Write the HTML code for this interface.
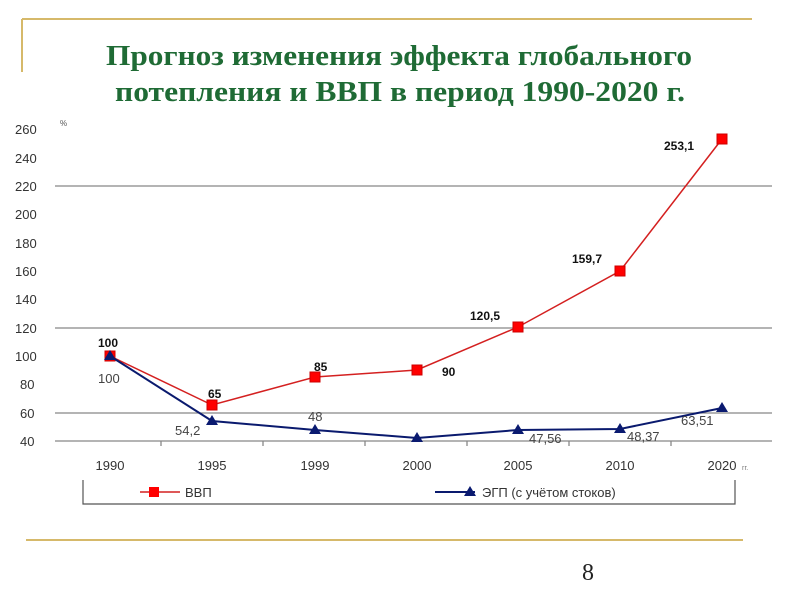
<!DOCTYPE html>
<html><head><meta charset="utf-8"><style>
body{margin:0;background:#fff;width:800px;height:600px;overflow:hidden}
</style></head><body>
<svg width="800" height="600" xmlns="http://www.w3.org/2000/svg" font-family="Liberation Sans, DejaVu Sans, sans-serif">
<line x1="22" y1="19" x2="752" y2="19" stroke="#d6b96a" stroke-width="2"/>
<line x1="22" y1="19" x2="22" y2="72" stroke="#d6b96a" stroke-width="2"/>
<line x1="26" y1="540" x2="743" y2="540" stroke="#d6b96a" stroke-width="2"/>
<g font-family="Liberation Serif, DejaVu Serif, serif" font-weight="bold" font-size="28" fill="#1f6b35">
<text x="106" y="65" textLength="586" lengthAdjust="spacingAndGlyphs">Прогноз изменения эффекта глобального</text>
<text x="115" y="101" textLength="570" lengthAdjust="spacingAndGlyphs">потепления и ВВП в период 1990-2020 г.</text>
</g>
<text x="582" y="580" font-family="Liberation Serif, serif" font-size="24" fill="#222">8</text>
<g stroke="#888" stroke-width="1.3">
<line x1="55" y1="186" x2="772" y2="186"/>
<line x1="55" y1="328" x2="772" y2="328"/>
<line x1="55" y1="413" x2="772" y2="413"/>
<line x1="55" y1="441" x2="772" y2="441"/>
<line x1="161" y1="441" x2="161" y2="446"/><line x1="263" y1="441" x2="263" y2="446"/>
<line x1="365" y1="441" x2="365" y2="446"/><line x1="467" y1="441" x2="467" y2="446"/>
<line x1="569" y1="441" x2="569" y2="446"/><line x1="671" y1="441" x2="671" y2="446"/>
</g>
<g font-size="13" fill="#333">
<text x="15" y="134">260</text><text x="15" y="163">240</text><text x="15" y="191">220</text>
<text x="15" y="219">200</text><text x="15" y="248">180</text><text x="15" y="276">160</text>
<text x="15" y="304">140</text><text x="15" y="333">120</text><text x="15" y="361">100</text>
<text x="20" y="389">80</text><text x="20" y="418">60</text><text x="20" y="446">40</text>
</g>
<text x="60" y="126" font-size="8" fill="#555">%</text>
<g font-size="13" fill="#333" text-anchor="middle">
<text x="110" y="470">1990</text><text x="212" y="470">1995</text><text x="315" y="470">1999</text>
<text x="417" y="470">2000</text><text x="518" y="470">2005</text><text x="620" y="470">2010</text>
<text x="722" y="470">2020</text>
</g>
<text x="742" y="470" font-size="7" fill="#777">гг.</text>
<polyline points="110,356 212,405 315,377 417,370 518,327 620,271 722,139" fill="none" stroke="#d42020" stroke-width="1.5"/>
<g fill="#f00" stroke="#c00">
<rect x="105" y="351" width="10" height="10"/><rect x="207" y="400" width="10" height="10"/>
<rect x="310" y="372" width="10" height="10"/><rect x="412" y="365" width="10" height="10"/>
<rect x="513" y="322" width="10" height="10"/><rect x="615" y="266" width="10" height="10"/>
<rect x="717" y="134" width="10" height="10"/>
</g>
<polyline points="110,356 212,421 315,430 417,438 518,430 620,429 722,408" fill="none" stroke="#0a1a6e" stroke-width="2"/>
<g fill="#0a1a70">
<path d="M110,350 l6,10 h-12z"/><path d="M212,415 l6,10 h-12z"/><path d="M315,424 l6,10 h-12z"/>
<path d="M417,432 l6,10 h-12z"/><path d="M518,424 l6,10 h-12z"/><path d="M620,423 l6,10 h-12z"/>
<path d="M722,402 l6,10 h-12z"/>
</g>
<g font-size="12" font-weight="bold" fill="#111">
<text x="98" y="347">100</text><text x="208" y="398">65</text><text x="314" y="371">85</text>
<text x="442" y="376">90</text><text x="470" y="320">120,5</text><text x="572" y="263">159,7</text>
<text x="664" y="150">253,1</text>
</g>
<g font-size="13" fill="#444">
<text x="98" y="383">100</text><text x="175" y="435">54,2</text><text x="308" y="421">48</text>
<text x="529" y="443">47,56</text><text x="627" y="441">48,37</text><text x="681" y="425">63,51</text>
</g>
<g stroke="#555" stroke-width="1.2" fill="none">
<polyline points="83,480 83,504 735,504 735,480"/>
</g>
<line x1="140" y1="492" x2="180" y2="492" stroke="#d42020" stroke-width="1.5"/>
<rect x="149" y="487" width="10" height="10" fill="#f00"/>
<text x="185" y="497" font-size="13" fill="#333">ВВП</text>
<line x1="435" y1="492" x2="475" y2="492" stroke="#0a1a6e" stroke-width="2"/>
<path d="M470,486 l6,10 h-12z" fill="#0a1a70"/>
<text x="482" y="497" font-size="13" fill="#333">ЭГП (с учётом стоков)</text>
</svg>
</body></html>
